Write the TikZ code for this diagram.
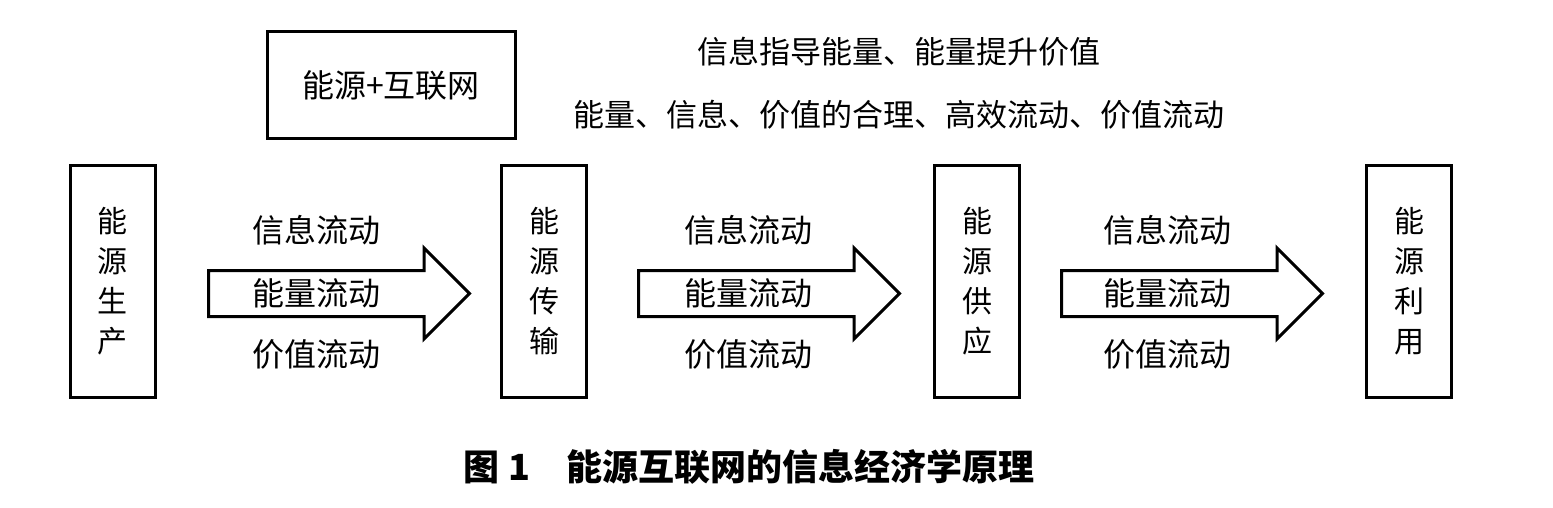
\documentclass[tikz,border=0pt]{standalone}
\usepackage{fontspec}
\setmainfont{Noto Sans CJK SC}
\usetikzlibrary{shapes.arrows}

\tikzset{
    stagebox/.style={draw, line width=1.5pt, minimum width=42.5pt, minimum height=115.5pt,
        align=center, inner sep=0pt, font=\fontsize{15}{20}\selectfont},
    topbox/.style={draw, line width=1.5pt, minimum width=124pt, minimum height=53.5pt,
        inner sep=0pt, font=\fontsize{16}{16}\selectfont},
    flowarrow/.style={single arrow, draw, line width=1.5pt, inner xsep=0pt, inner ysep=10.75pt,
        minimum height=130.5pt, single arrow head extend=11.25pt, anchor=tail},
    flowlbl/.style={inner sep=0pt, font=\fontsize{16}{16}\selectfont},
    notelbl/.style={inner sep=0pt, font=\fontsize{15.5}{15.5}\selectfont},
}

\begin{document}
\begin{tikzpicture}[x=0.5pt,y=-0.5pt]
    \useasboundingbox (0,0) rectangle (1553,508);

    % stages
    \node[stagebox] (prod) at (112.5,281.5) {能\\源\\生\\产};
    \node[stagebox] (trans) at (544,281.5) {能\\源\\传\\输};
    \node[stagebox] (supp) at (977,281.5) {能\\源\\供\\应};
    \node[stagebox] (use) at (1409,281.5) {能\\源\\利\\用};

    \node[topbox] (net) at (391,85.5) {能源+互联网};
    \node[notelbl] (note1) at (899,52) {信息指导能量、能量提升价值};
    \node[notelbl] (note2) at (899,115) {能量、信息、价值的合理、高效流动、价值流动};

    % flows between stages
    \foreach \n/\xa/\xl in {1/207/316, 2/637/748, 3/1060/1167} {
        \node[flowarrow] (arr\n) at (\xa,293.5) {};
        \node[flowlbl] (info\n) at (\xl,230) {信息流动};
        \node[flowlbl] (ener\n) at (\xl,293) {能量流动};
        \node[flowlbl] (valu\n) at (\xl,354) {价值流动};
    }

    \node[inner sep=0pt, font=\bfseries\fontsize{18}{18}\selectfont] (cap) at (749,467)
        {图 1\hspace{1em}能源互联网的信息经济学原理};
\end{tikzpicture}
\end{document}
